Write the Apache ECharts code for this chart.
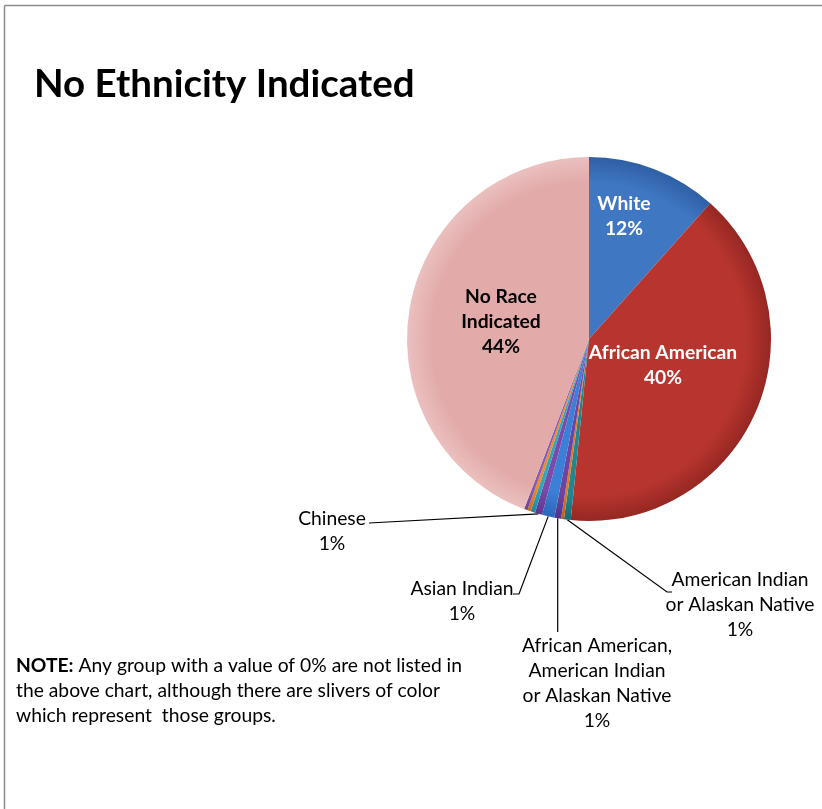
<!DOCTYPE html>
<html>
<head>
<meta charset="utf-8">
<script src="https://cdn.jsdelivr.net/npm/echarts@6/dist/echarts.min.js"></script>
<style>
html,body{margin:0;padding:0;background:#fff;}
#chart{width:822px;height:809px;}
</style>
</head>
<body>
<div id="chart"></div>
<script>
// ---- data ----
const categories = [
  'White',
  'African American',
  'American Indian or Alaskan Native',
  'Other Group 1',
  'African American, American Indian or Alaskan Native',
  'Asian Indian',
  'Chinese',
  'Other Group 2',
  'Other Group 3',
  'Other Group 4',
  'No Race Indicated'
];
const values = [11.6, 40.0, 0.6, 0.25, 0.6, 1.1, 0.65, 0.4, 0.3, 0.3, 44.2];
const labelTexts = [
  'White',
  'African American',
  'American Indian\nor Alaskan Native',
  '',
  'African American,\nAmerican Indian\nor Alaskan Native',
  'Asian Indian',
  'Chinese',
  '',
  '',
  '',
  'No Race\nIndicated'
];
const colors = ['#3F77C2', '#B8352F', '#23868F', '#E07A1F', '#6E44A3', '#3C7FD6', '#7A4BAA', '#2FA6BE', '#EE8A2A', '#8A5BB0', '#E2AAA9'];
const edgeColors = ['#2F5FA6', '#962722', '#1A6A72', '#B95F12', '#55318A', '#2C66B8', '#5E3690', '#22869C', '#C96E1C', '#6C4492', '#EAC0BF'];

// ---- layout constants ----
const CX = 589, CY = 339, R = 182;
const FONT = 'Lato';
const FS = 19.3;
const labelPos = {
  'White': {x: 624, y: 216, line: null},
  'African American': {x: 663, y: 365, line: null},
  'No Race Indicated': {x: 501, y: 322, line: null},
  'Chinese': {x: 332, y: 531, line: [[369, 523]]},
  'Asian Indian': {x: 462, y: 601, line: [[519, 594], [513, 594]]},
  'African American, American Indian or Alaskan Native': {x: 597, y: 683, line: 'vertical', endY: 632},
  'American Indian or Alaskan Native': {x: 740, y: 605, line: [[667, 592], [672, 592]]}
};
const insideStyles = {
  'White': {color: '#fff'},
  'African American': {color: '#fff'},
  'No Race Indicated': {color: '#000'}
};

const total = values.reduce((a, b) => a + b, 0);
const data = categories.map((name, i) => {
  const pct = values[i] / total * 100;
  const shown = labelTexts[i] !== '';
  const inside = insideStyles[name];
  return {
    name: name,
    value: values[i],
    itemStyle: {
      color: {
        type: 'radial', x: CX, y: CY, r: R, global: true,
        colorStops: [
          {offset: 0, color: colors[i]},
          {offset: 0.86, color: colors[i]},
          {offset: 1, color: edgeColors[i]}
        ]
      }
    },
    label: {
      show: shown,
      position: inside ? 'inside' : 'outside',
      formatter: labelTexts[i] + '\n' + Math.round(pct) + '%',
      color: inside ? inside.color : '#000',
      fontWeight: inside ? 'bold' : 'normal',
      fontFamily: FONT,
      fontSize: FS,
      lineHeight: 25,
      align: 'center'
    },
    labelLine: {show: shown && !inside, lineStyle: {color: '#000', width: 1.2}}
  };
});

const chart = echarts.init(document.getElementById('chart'), null, {renderer: 'canvas'});
chart.setOption({
  backgroundColor: '#fff',
  animation: false,
  title: {
    text: 'No Ethnicity Indicated',
    left: 29,
    top: 60,
    textStyle: {fontFamily: FONT, fontSize: 38.5, fontWeight: 'bold', color: '#000'}
  },
  graphic: [
    {type: 'line', shape: {x1: 4.5, y1: 5.5, x2: 822, y2: 5.5}, style: {stroke: '#8c8c8c', lineWidth: 1.5}, silent: true},
    {type: 'line', shape: {x1: 4.5, y1: 5.5, x2: 4.5, y2: 809}, style: {stroke: '#8c8c8c', lineWidth: 1.5}, silent: true},
    {
      type: 'text', left: 16, top: 653, silent: true,
      style: {
        text: '{b|NOTE:} Any group with a value of 0% are not listed in\nthe above chart, although there are slivers of color\nwhich represent  those groups.',
        font: FS + 'px ' + FONT,
        lineHeight: 25,
        fill: '#000',
        rich: {b: {fontWeight: 'bold', fontFamily: FONT, fontSize: FS, lineHeight: 25}}
      }
    }
  ],
  series: [{
    type: 'pie',
    center: [CX, CY],
    radius: R,
    startAngle: 90,
    clockwise: true,
    avoidLabelOverlap: false,
    minAngle: 0,
    itemStyle: {borderWidth: 0},
    emphasis: {disabled: true},
    labelLine: {length: 10, length2: 10},
    data: data,
    labelLayout: function (params) {
      const name = categories[params.dataIndex];
      const p = labelPos[name];
      if (!p) return {};
      const out = {x: p.x, y: p.y, align: 'center', verticalAlign: 'middle'};
      if (p.line) {
        let start = params.labelLinePoints && params.labelLinePoints[0];
        if (!start) {
          let before = 0;
          for (let k = 0; k < params.dataIndex; k++) before += values[k];
          const mid = (before + values[params.dataIndex] / 2) / total * 2 * Math.PI;
          start = [CX + R * Math.sin(mid), CY - R * Math.cos(mid)];
        }
        if (p.line === 'vertical') {
          out.labelLinePoints = [start, [start[0], p.endY]];
        } else {
          out.labelLinePoints = [start].concat(p.line);
        }
      }
      return out;
    }
  }]
});
</script>
</body>
</html>
